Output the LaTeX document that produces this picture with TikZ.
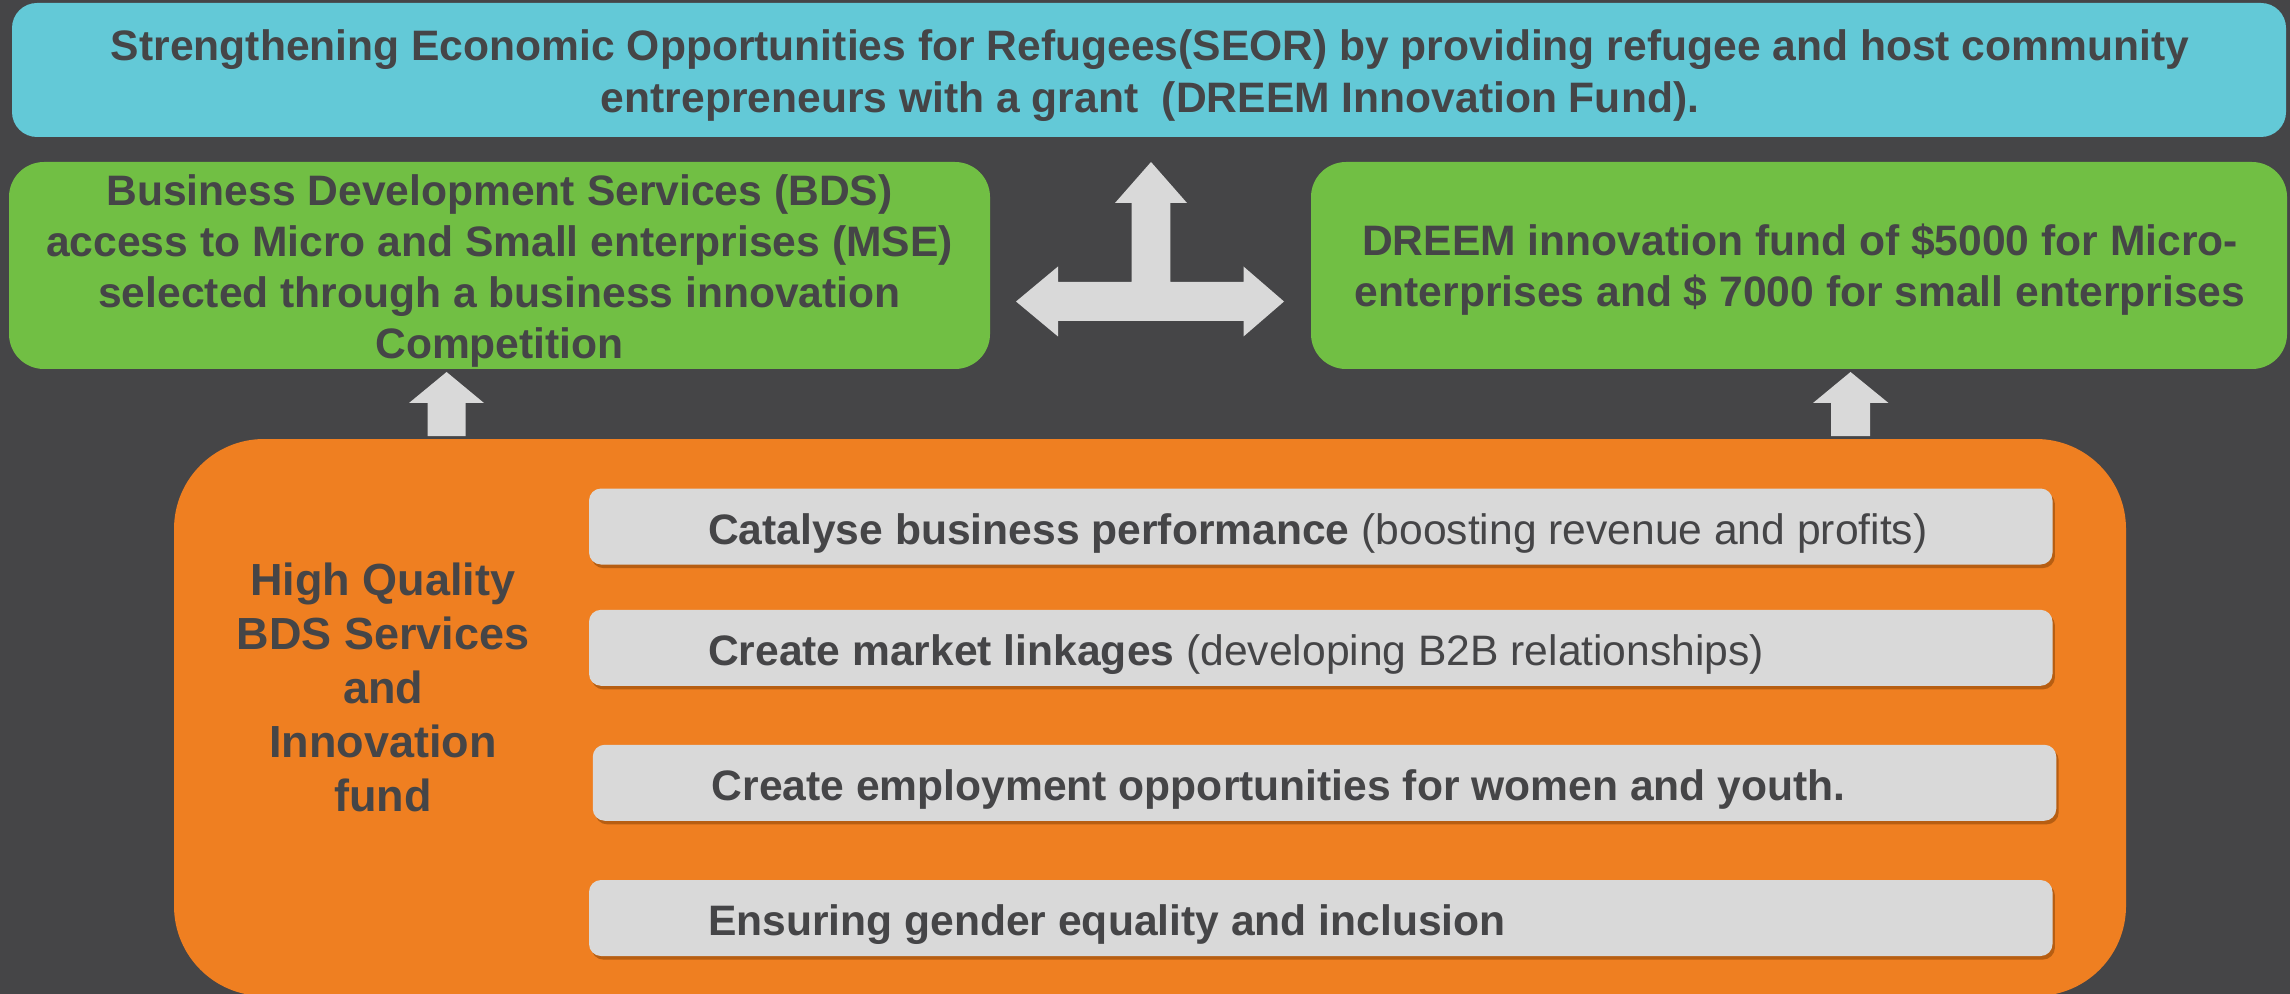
\documentclass[tikz,border=0pt]{standalone}
\usepackage{fontspec}
\setmainfont{Liberation Sans}
\usetikzlibrary{shadows}
\definecolor{bgdark}{HTML}{454547}
\definecolor{ink}{HTML}{454547}
\definecolor{bannercyan}{HTML}{63C9D7}
\definecolor{leafgreen}{HTML}{71BF44}
\definecolor{deeporange}{HTML}{EF7F21}
\definecolor{lightgrey}{HTML}{D9D9D9}
\definecolor{shadoworange}{HTML}{A9560F}
\tikzset{
  banner/.style={fill=bannercyan, rounded corners=12.5pt, minimum width=1137pt, minimum height=67pt},
  bannertext/.style={text=ink, align=center, font=\fontsize{21.3}{26}\selectfont\bfseries},
  greenbox/.style={fill=leafgreen, rounded corners=17.5pt, minimum height=103.5pt},
  greentext/.style={text=ink, align=center, font=\fontsize{21.3}{25.4}\selectfont\bfseries},
  bigbox/.style={fill=deeporange, rounded corners=45pt, minimum width=976pt, minimum height=278.5pt},
  itembox/.style={fill=lightgrey, rounded corners=6pt, minimum width=731.75pt, minimum height=38pt,
    drop shadow={shadow xshift=1.2pt, shadow yshift=-1.8pt, fill=shadoworange, opacity=0.8}},
  itemtext/.style={anchor=west, text=ink, inner sep=0pt, font=\fontsize{21.3}{25}\selectfont},
  sidetext/.style={text=ink, align=center, font=\fontsize{22.5}{27}\selectfont\bfseries},
  blockarrow/.style={fill=lightgrey},
}
\begin{document}
\begin{tikzpicture}[x=0.5pt,y=-0.5pt]
  % page background
  \fill[bgdark] (0,0) rectangle (2290,994);
  \useasboundingbox (0,0) rectangle (2290,994);

  % goal banner
  \node[banner] (goal) at (1149,70) {};
  \node[bannertext] (goaltext) at (1150,76)
    {Strengthening Economic Opportunities for Refugees(SEOR) by providing refugee and host community\\
     entrepreneurs with a grant\ \ (DREEM Innovation Fund).};

  % the two outputs
  \node[greenbox, minimum width=490.5pt] (bds) at (499.5,265.5) {};
  \node[greentext] (bdstext) at (499.5,271)
    {Business Development Services (BDS)\\
     access to Micro and Small enterprises (MSE)\\
     selected through a business innovation\\
     Competition};
  \node[greenbox, minimum width=488pt] (fund) at (1799,265.5) {};
  \node[greentext] (fundtext) at (1800,270)
    {DREEM innovation fund of \$5000 for Micro-\\
     enterprises and \$ 7000 for small enterprises};

  % T-shaped block arrow between the outputs and up to the banner
  \fill[blockarrow] (1016,301.5) -- (1058,266.5) -- (1058,282) -- (1131.6,282) -- (1131.6,203)
    -- (1115,203) -- (1151,162) -- (1187,203) -- (1170.4,203) -- (1170.4,282)
    -- (1243.5,282) -- (1243.5,266.5) -- (1284,301.5) -- (1243.5,336.5) -- (1243.5,321)
    -- (1058,321) -- (1058,336.5) -- cycle;

  % activities block
  \node[bigbox] (act) at (1150,717.5) {};

  % small up arrows from the activities block
  \fill[blockarrow] (427.6,436) -- (427.6,403) -- (409,403) -- (446.6,372) -- (484,403)
    -- (465.7,403) -- (465.7,436) -- cycle;
  \fill[blockarrow] (1831,436) -- (1831,403) -- (1813,403) -- (1850.5,372) -- (1888.5,403)
    -- (1870,403) -- (1870,436) -- cycle;

  \node[sidetext] (side) at (383,687)
    {High Quality\\BDS Services\\and\\Innovation\\fund};

  % activity items
  \node[itembox] (g1) at (1320.75,526.5) {};
  \node[itembox] (g2) at (1320.75,647.8) {};
  \node[itembox] (g3) at (1324.5,782.75) {};
  \node[itembox] (g4) at (1320.75,918) {};

  \node[itemtext] (t1) at ([xshift=59.5pt,yshift=-3.5pt]g1.west)
    {\textbf{Catalyse business performance} (boosting revenue and profits)};
  \node[itemtext] (t2) at ([xshift=59.5pt,yshift=-3.5pt]g2.west)
    {\textbf{Create market linkages} (developing B2B relationships)};
  \node[itemtext] (t3) at ([xshift=59.5pt,yshift=-3.5pt]g3.west)
    {\textbf{Create employment opportunities for women and youth.}};
  \node[itemtext] (t4) at ([xshift=59.5pt,yshift=-3.5pt]g4.west)
    {\textbf{Ensuring gender equality and inclusion}};
\end{tikzpicture}
\end{document}
